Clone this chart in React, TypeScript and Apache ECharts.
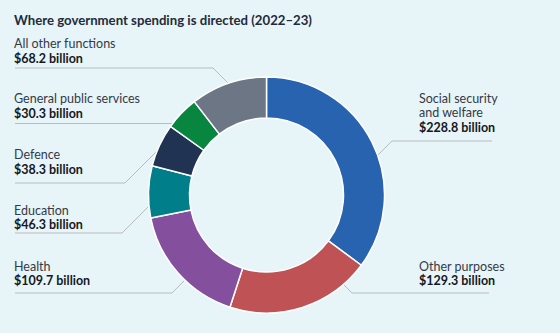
import React, { useEffect, useRef } from "react";
import * as echarts from "echarts";

const title = "Where government spending is directed (2022–23)";
const names = [
  "Social security\nand welfare",
  "Other purposes",
  "Health",
  "Education",
  "Defence",
  "General public services",
  "All other functions",
];
const values = [228.8, 129.3, 109.7, 46.3, 38.3, 30.3, 68.2];
const colors = ["#2763ae", "#bf5254", "#844f9d", "#007f8a", "#213352", "#08853f", "#6d7684"];

// label layout (positions only)
const labelLeft = [419, 419, 14, 14, 14, 14, 14];
const labelTop = [91, 259, 259, 203, 147.5, 91.5, 36.5];
const lineY = [141, 293, 293, 233, 183, 123.5, 68];
const lineFar = [492, 489, 15, 15, 15, 15, 15];
const kneeX = [392, 352, 172, 122, 125, null, 213];
const kneeDir = [1, -1, -1, -1, -1, 0, 1];

const CX = 266.5;
const CY = 195;
const R_OUT = 118;
const R_IN = 77;
const R_END = 116;

function anchor(i: number): number[] {
  const ky = lineY[i];
  const side = labelLeft[i] < CX ? -1 : 1;
  if (kneeX[i] === null) {
    const dy = ky - CY;
    const dx = Math.sqrt(R_END * R_END - dy * dy);
    return [CX + side * dx, ky];
  }
  const kx = kneeX[i] as number;
  const ux = -side;
  const uy = kneeDir[i];
  const px = kx - CX;
  const py = ky - CY;
  const a = 2;
  const b = 2 * (px * ux + py * uy);
  const c = px * px + py * py - R_END * R_END;
  const disc = Math.max(0, b * b - 4 * a * c);
  const t = (-b - Math.sqrt(disc)) / (2 * a);
  return [kx + t * ux, ky + t * uy];
}

export default function App() {
  const ref = useRef<HTMLDivElement>(null);
  useEffect(() => {
    document.body.style.margin = "0";
    const chart = echarts.init(ref.current as HTMLDivElement, null, { renderer: "svg" });
    const data = names.map((n, i) => ({
      name: n,
      value: values[i],
      itemStyle: { color: colors[i] },
    }));
    chart.setOption({
      animation: false,
      backgroundColor: "#e7f4f8",
      title: {
        text: title,
        left: 9,
        top: 8,
        textStyle: {
          fontFamily: "Lato",
          fontSize: 13.2,
          fontWeight: "bold",
          color: "#222b3b",
        },
      },
      series: [
        {
          type: "pie",
          center: [CX, CY],
          radius: [R_IN, R_OUT],
          startAngle: 90,
          clockwise: true,
          data,
          itemStyle: { borderColor: "#ffffff", borderWidth: 1.5 },
          label: {
            show: true,
            position: "outside",
            overflow: "none",
            width: 200,
            formatter: (p: any) =>
              p.name
                .split("\n")
                .map((s: string) => `{n|${s}}`)
                .join("\n") + `\n{v|$${p.value.toFixed(1)} billion}`,
            rich: {
              n: {
                fontFamily: "Lato",
                fontSize: 12.5,
                color: "#343a46",
                lineHeight: 14.5,
              },
              v: {
                fontFamily: "Lato",
                fontSize: 12.5,
                fontWeight: "bold",
                color: "#15181e",
                lineHeight: 14.5,
              },
            },
          },
          labelLine: {
            show: true,
            lineStyle: { color: "#b9bcbf", width: 1 },
          },
          labelLayout: (params: any) => {
            const i = params.dataIndex;
            const a = anchor(i);
            const pts: number[][] = [a];
            if (kneeX[i] !== null) pts.push([kneeX[i] as number, lineY[i]]);
            else pts.push([(a[0] + lineFar[i]) / 2, lineY[i]]);
            pts.push([lineFar[i], lineY[i]]);
            return {
              x: labelLeft[i],
              y: labelTop[i],
              align: "left",
              verticalAlign: "top",
              labelLinePoints: pts,
            };
          },
        },
      ],
    });
    return () => chart.dispose();
  }, []);
  return (
    <div
      ref={ref}
      style={{ position: "absolute", left: 0, top: 0, width: 560, height: 333 }}
    />
  );
}
